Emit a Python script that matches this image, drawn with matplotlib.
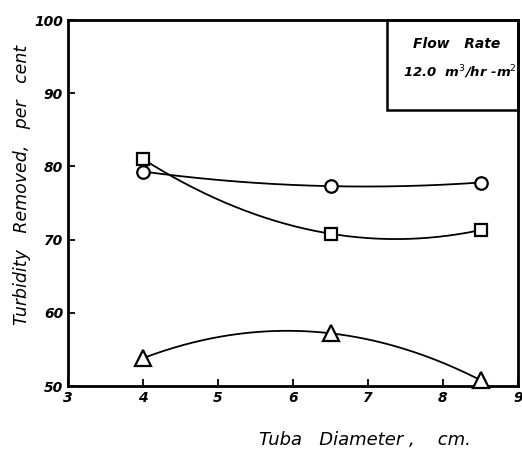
import numpy as np
import matplotlib
matplotlib.use("Agg")
import matplotlib.pyplot as plt

diam = [4.0, 6.5, 8.5]
circles = [79.3, 77.3, 77.8]
squares = [81.0, 70.8, 71.3]
triangles = [53.8, 57.2, 50.8]
xticks = [3, 4, 5, 6, 7, 8, 9]
yticks = [50, 60, 70, 80, 90, 100]

plt.rcParams['font.family'] = ['DejaVu Sans']
fig = plt.figure(figsize=(5.22, 4.55), dpi=100)
ax = fig.add_axes([68/522, 69/455, 450/522, 366/455])
ax.set_xlim(3, 9)
ax.set_ylim(50, 100)

xs = np.linspace(4, 8.5, 200)
for ys, mk, ms in [(circles, 'o', 9), (squares, 's', 9), (triangles, '^', 11)]:
    c = np.polyfit(diam, ys, 2)
    ax.plot(xs, np.polyval(c, xs), color='black', lw=1.3, zorder=2)
    ax.plot(diam, ys, linestyle='none', marker=mk, ms=ms, mfc='white',
            mec='black', mew=1.6, zorder=3, clip_on=False)

ax.set_xticks(xticks)
ax.set_yticks(yticks)
ax.tick_params(direction='in', length=5, width=1.3, labelsize=10)
for lab in ax.get_xticklabels() + ax.get_yticklabels():
    lab.set_fontstyle('italic')
    lab.set_fontweight('bold')
for s in ax.spines.values():
    s.set_linewidth(2)

fig.text(22/522, 1 - 185/455, 'Turbidity   Removed,   per   cent', rotation=90,
         ha='center', va='center', fontsize=12.5, style='italic')
fig.text(365/522, 1 - 440/455, 'Tuba   Diameter ,    cm.', ha='center', va='center',
         fontsize=13, style='italic')

# flow-rate box
box = plt.Rectangle((387/522, 1 - 110/455), (518 - 387)/522, 90/455,
                    transform=fig.transFigure, fill=False, lw=1.8, color='black')
fig.add_artist(box)
fig.text(457/522, 1 - 44/455, 'Flow   Rate', ha='center', va='center',
         fontsize=10, style='italic', fontweight='bold')
fig.text(460/522, 1 - 72/455, r'12.0  m$^3$/hr -m$^2$', ha='center', va='center',
         fontsize=9.5, style='italic', fontweight='bold')

fig.savefig('out.png', dpi=100)
